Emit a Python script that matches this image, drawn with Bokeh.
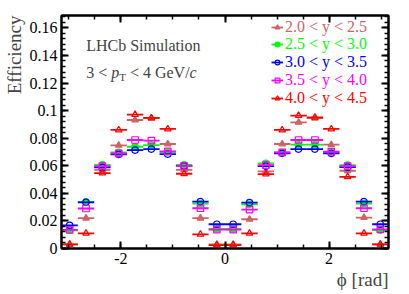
import numpy as np
from bokeh.plotting import figure
from bokeh.models import (ColumnDataSource, Range1d, LinearAxis, FixedTicker,
                          SingleIntervalTicker, CustomJSTickFormatter, Label,
                          Legend, LegendItem, Title)
from bokeh.embed import file_html
from bokeh.resources import INLINE

# ---------------- data ----------------
phi_edges = np.linspace(-np.pi, np.pi, 21)          # 20 bins in phi [rad]
series_labels = ["2.0 < y < 2.5", "2.5 < y < 3.0", "3.0 < y < 3.5",
                 "3.5 < y < 4.0", "4.0 < y < 4.5"]
eff_y20_25 = [0.0030, 0.0220, 0.0571, 0.0748, 0.0932, 0.0945, 0.0758, 0.0571, 0.0220, 0.0030,
              0.0030, 0.0212, 0.0559, 0.0758, 0.0915, 0.0945, 0.0753, 0.0564, 0.0224, 0.0030]
eff_y25_30 = [0.0132, 0.0338, 0.0607, 0.0697, 0.0738, 0.0750, 0.0700, 0.0607, 0.0326, 0.0142,
              0.0142, 0.0320, 0.0617, 0.0697, 0.0753, 0.0753, 0.0700, 0.0605, 0.0326, 0.0134]
eff_y30_35 = [0.0168, 0.0335, 0.0588, 0.0683, 0.0714, 0.0721, 0.0685, 0.0598, 0.0340, 0.0176,
              0.0176, 0.0333, 0.0598, 0.0690, 0.0721, 0.0721, 0.0690, 0.0590, 0.0340, 0.0176]
eff_y35_40 = [0.0135, 0.0290, 0.0597, 0.0690, 0.0787, 0.0782, 0.0704, 0.0598, 0.0292, 0.0137,
              0.0137, 0.0282, 0.0605, 0.0697, 0.0787, 0.0787, 0.0702, 0.0597, 0.0292, 0.0138]
eff_y40_45 = [0.0030, 0.0110, 0.0547, 0.0860, 0.0971, 0.0947, 0.0867, 0.0542, 0.0103, 0.0025,
              0.0025, 0.0110, 0.0540, 0.0860, 0.0964, 0.0951, 0.0867, 0.0520, 0.0110, 0.0030]
all_eff = [eff_y20_25, eff_y25_30, eff_y30_35, eff_y35_40, eff_y40_45]
x_major_ticks = [-2, 0, 2]

# ---------------- style ----------------
colors = ["#CC6464", "#00FF00", "#0000FF", "#FF00FF", "#FF0000"]
markers = ["triangle", "circle", "circle", "square", "triangle"]
filled = [True, True, False, False, False]
FONT = "'Liberation Serif', 'Times New Roman', serif"

p = figure(width=405, height=294, output_backend="svg", toolbar_location=None,
           x_range=Range1d(-np.pi, np.pi), y_range=Range1d(0, 0.169),
           x_axis_type=None, y_axis_type=None,
           min_border_left=57, min_border_right=17, min_border_top=15, min_border_bottom=46)
p.grid.visible = False
p.outline_line_color = "black"
p.outline_line_width = 2
p.background_fill_color = "white"

x_minor = list(np.arange(-3.0, 3.01, 0.5))
yfmt = CustomJSTickFormatter(code="return tick.toFixed(2).replace(/0+$/,'').replace(/\\.$/,'');")
xfmt = CustomJSTickFormatter(code="return String(Math.round(tick));")
nofmt = CustomJSTickFormatter(code="return '';")


def style_axis(ax, labels=True):
    ax.axis_line_width = 2
    ax.major_tick_in = 7
    ax.major_tick_out = 0
    ax.minor_tick_in = 4
    ax.minor_tick_out = 0
    ax.major_tick_line_width = 2
    ax.minor_tick_line_width = 1.5
    ax.major_label_text_font = FONT
    ax.major_label_text_font_size = "16px" if labels else "8px"
    ax.major_label_standoff = 4 if labels else 0
    ax.major_label_text_color = "black"


for loc in ["below", "above"]:
    ax = LinearAxis(ticker=FixedTicker(ticks=x_major_ticks, minor_ticks=x_minor),
                    formatter=(xfmt if loc == "below" else nofmt))
    style_axis(ax, labels=(loc == "below"))
    p.add_layout(ax, loc)
for loc in ["left", "right"]:
    ax = LinearAxis(ticker=SingleIntervalTicker(interval=0.02, num_minor_ticks=5),
                    formatter=(yfmt if loc == "left" else nofmt))
    style_axis(ax, labels=(loc == "left"))
    p.add_layout(ax, loc)

p.add_layout(Title(text="ϕ [rad]", align="right", text_font=FONT, text_font_size="19px",
                   text_font_style="normal", standoff=0), "below")
p.add_layout(Title(text="Efficiency", align="right", text_font=FONT, text_font_size="19px",
                   text_font_style="normal", standoff=3), "left")

centers = 0.5 * (phi_edges[:-1] + phi_edges[1:])
renderers = []
for eff, c, m, f in zip(all_eff, colors, markers, filled):
    src = ColumnDataSource(dict(x=centers, x0=phi_edges[:-1], x1=phi_edges[1:], y=eff))
    seg = p.segment(x0="x0", x1="x1", y0="y", y1="y", source=src, line_color=c, line_width=1.8)
    sc = p.scatter(x="x", y="y", source=src, marker=m, size=6.5, line_color=c, line_width=1.2,
                   fill_color=(c if f else None))
    renderers.append((seg, sc))

# legends (one per entry so each label has its own colour)
row_bottoms = [211.7, 195.0, 177.3, 159.0, 141.0]
for (seg, sc), lab, c, yb in zip(renderers, series_labels, colors, row_bottoms):
    lg = Legend(items=[LegendItem(label=lab, renderers=[seg, sc])], location=(210, yb),
                border_line_color=None, background_fill_alpha=0, padding=0, margin=0,
                glyph_width=12, glyph_height=16, label_height=16, label_standoff=2,
                label_text_font=FONT, label_text_font_size="16px", label_text_color=c)
    p.add_layout(lg)

# texts
x_px = lambda px: (px - 222.5) / 52.68
y_px = lambda py: (248.0 - py) / 1378.7

p.add_layout(Label(x=x_px(82), y=y_px(45), text="LHCb Simulation", text_font=FONT,
                   text_font_size="16px", text_baseline="alphabetic"))
pieces = [("3 <", 0, 0, "normal", "16px"), ("p", 25, 0, "italic", "16px"),
          ("T", 33, -4, "normal", "11px"), ("< 4 GeV/", 43.7, 0, "normal", "16px"),
          ("c", 103.4, 0, "italic", "16px")]
for t, dx, dy, st, fs in pieces:
    p.add_layout(Label(x=x_px(82), y=y_px(72), x_offset=dx, y_offset=dy, text=t,
                       text_font=FONT, text_font_style=st, text_font_size=fs,
                       text_baseline="alphabetic"))

open("out.html", "w").write(file_html(p, INLINE))
